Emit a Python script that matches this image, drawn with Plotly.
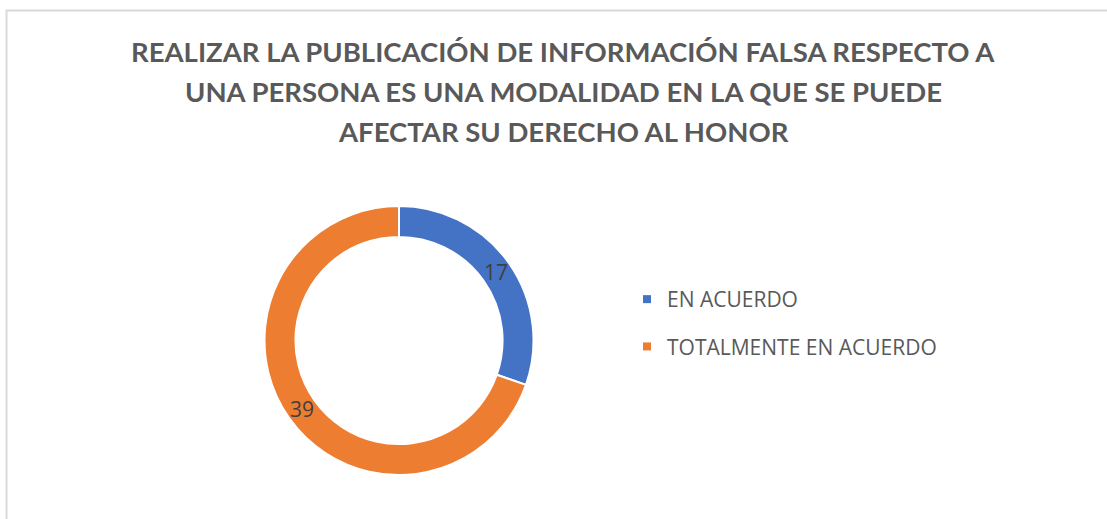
import math
import plotly.graph_objects as go

title_lines = [
    "REALIZAR LA PUBLICACIÓN DE INFORMACIÓN FALSA RESPECTO A",
    "UNA PERSONA ES UNA MODALIDAD EN LA QUE SE PUEDE",
    "AFECTAR SU DERECHO AL HONOR",
]
labels = ["EN ACUERDO", "TOTALMENTE EN ACUERDO"]
values = [17, 39]
colors = ["#4472c4", "#ed7d31"]

W, H = 1107, 519
cx, cy, r = 399, 340.5, 134.5
hole = 0.77

fig = go.Figure()
fig.add_trace(go.Pie(labels=labels,
                     values=values,
                     hole=hole,
                     sort=False,
                     direction='clockwise',
                     rotation=0,
                     marker=dict(colors=colors, line=dict(color='white', width=2)),
                     textinfo='none',
                     domain=dict(x=[(cx - r) / W, (cx + r) / W],
                                 y=[1 - (cy + r) / H, 1 - (cy - r) / H]),
                     showlegend=False,
                     hoverinfo='label+value'
                     ))

# data labels in the middle of each ring segment
total = sum(values)
start = 0
rm = r * (1 + hole) / 2
for v in values:
    a = math.radians((start + v / 2) / total * 360)
    start += v
    fig.add_annotation(text=str(v),
                       x=(cx + rm * math.sin(a)) / W,
                       y=1 - (cy - rm * math.cos(a)) / H,
                       xref='paper', yref='paper',
                       xanchor='center', yanchor='middle',
                       showarrow=False,
                       font=dict(family='Open Sans', size=21, color='#404040'))

# legend entries as dummy traces so the gap between items can be set
for name, c in zip(labels, colors):
    fig.add_trace(go.Scatter(x=[None], y=[None],
                             mode='markers',
                             name=name,
                             legendgroup=name,
                             marker=dict(symbol='square', size=8, color=c)
                             ))

axis = dict(visible=False)
fig.update_layout(xaxis=axis, yaxis=axis)

for i, line in enumerate(title_lines):
    fig.add_annotation(text="<b>" + line + "</b>",
                       x=563 / W, y=1 - (51 + 40 * i) / H,
                       xref='paper', yref='paper',
                       xanchor='center', yanchor='middle',
                       showarrow=False,
                       font=dict(family='Lato', size=27.5, color='#595959'))

fig.add_shape(type='rect', xref='paper', yref='paper',
              x0=6.5 / W, x1=1.05, y0=-0.05, y1=1 - 10.5 / H,
              line=dict(color='#d9d9d9', width=2))

fig.update_layout(width=W, height=H,
                  margin=dict(l=0, r=0, t=0, b=0),
                  paper_bgcolor='white', plot_bgcolor='white',
                  legend=dict(x=627 / W, y=1 - 323 / H,
                              xanchor='left', yanchor='middle',
                              tracegroupgap=17,
                              itemwidth=30,
                              font=dict(family='Open Sans', size=21, color='#595959')))

fig.write_html("out.html", config={'displayModeBar': False},
               post_script="document.body.style.margin='0';")
